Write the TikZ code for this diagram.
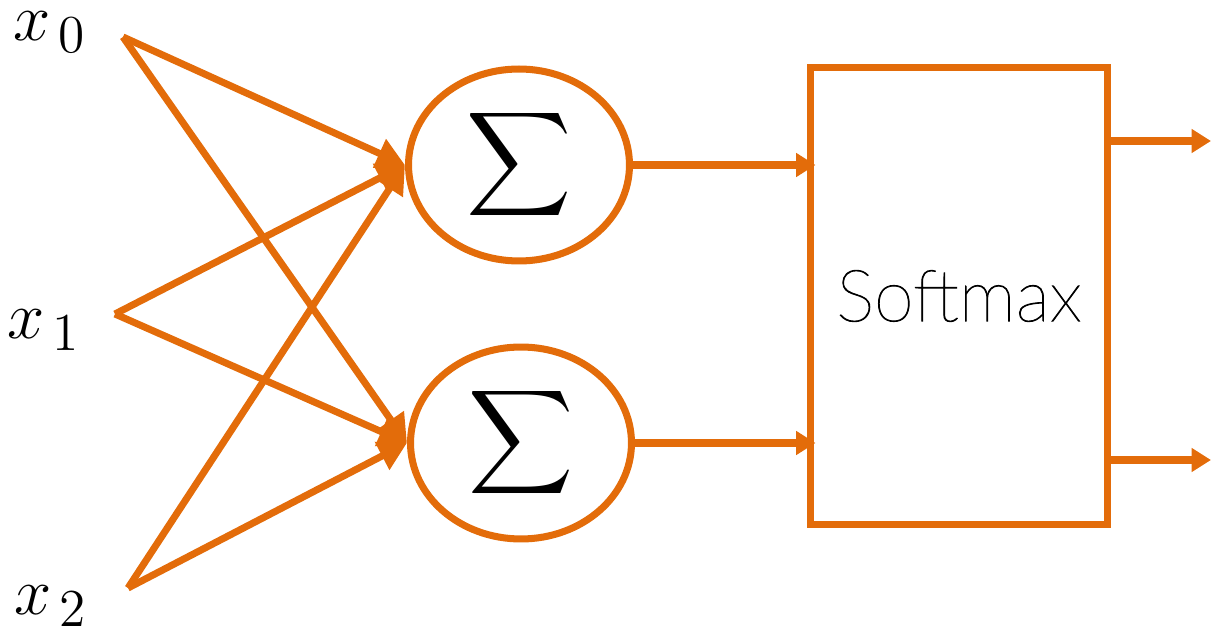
\documentclass[tikz,border=0pt]{standalone}
\usepackage{amsmath}
\usepackage{fontspec}
\newfontfamily\softfont{Lato}[UprightFont={* Thin}, FakeBold=1.2]
\usetikzlibrary{arrows.meta,shapes.geometric}
\definecolor{org}{RGB}{227,108,10}
\newcommand{\bigsub}[1]{\scalebox{1.15}{$\scriptstyle #1$}}
\tikzset{
  x=0.02cm, y=-0.02cm,
  lab/.style={inner sep=0pt, font=\fontsize{17}{20}\selectfont},
  sumnode/.style={draw=org, line width=4pt, ellipse, minimum width=4.42cm, minimum height=3.84cm, inner sep=0pt, font=\fontsize{17}{20}\selectfont},
  smbox/.style={draw=org, line width=4pt, rectangle, minimum width=5.96cm, minimum height=9.16cm, inner sep=0pt, font=\softfont\fontsize{41}{48}\selectfont},
  inarr/.style={draw=org, line width=4pt, -{Triangle[length=16pt,width=17pt]}},
  outarr/.style={draw=org, line width=4pt, -{Triangle[length=11pt,width=13pt]}},
}
\begin{document}
\begin{tikzpicture}
\useasboundingbox (0,0) rectangle (1211,631);
% labels
\node[lab] (x0) at (50,32) {\scalebox{2.2}{$x_{\,\bigsub{0}}$}};
\node[lab] (x1) at (44,330) {\scalebox{2.2}{$x_{\,\bigsub{1}}$}};
\node[lab] (x2) at (51,606) {\scalebox{2.2}{$x_{\,\bigsub{2}}$}};
\coordinate (i0) at (123,37);
\coordinate (i1) at (115,314);
\coordinate (i2) at (128,588);
% sum nodes
\node[sumnode] (s1) at (519,165) {\raisebox{-0.12cm}{\scalebox{2.4}{$\displaystyle\sum$}}};
\node[sumnode] (s2) at (521,443) {\raisebox{-0.12cm}{\scalebox{2.4}{$\displaystyle\sum$}}};
% softmax
\node[smbox] (sm) at (959,296) {Softmax};
% input connectors
\draw[inarr] (i0) -- (s1.west);
\draw[inarr] (i0) -- (s2.west);
\draw[inarr] (i1) -- (s1.west);
\draw[inarr] (i1) -- (s2.west);
\draw[inarr] (i2) -- (s1.west);
\draw[inarr] (i2) -- (s2.west);
% to softmax
\draw[outarr] (s1.east) -- ([xshift=0.18cm]s1.east -| sm.west);
\draw[outarr] (s2.east) -- ([xshift=0.18cm]s2.east -| sm.west);
% outputs
\coordinate (o1) at (1211,141);
\coordinate (o2) at (1211,460);
\draw[outarr] (o1 -| sm.east) -- (o1);
\draw[outarr] (o2 -| sm.east) -- (o2);
\end{tikzpicture}
\end{document}
